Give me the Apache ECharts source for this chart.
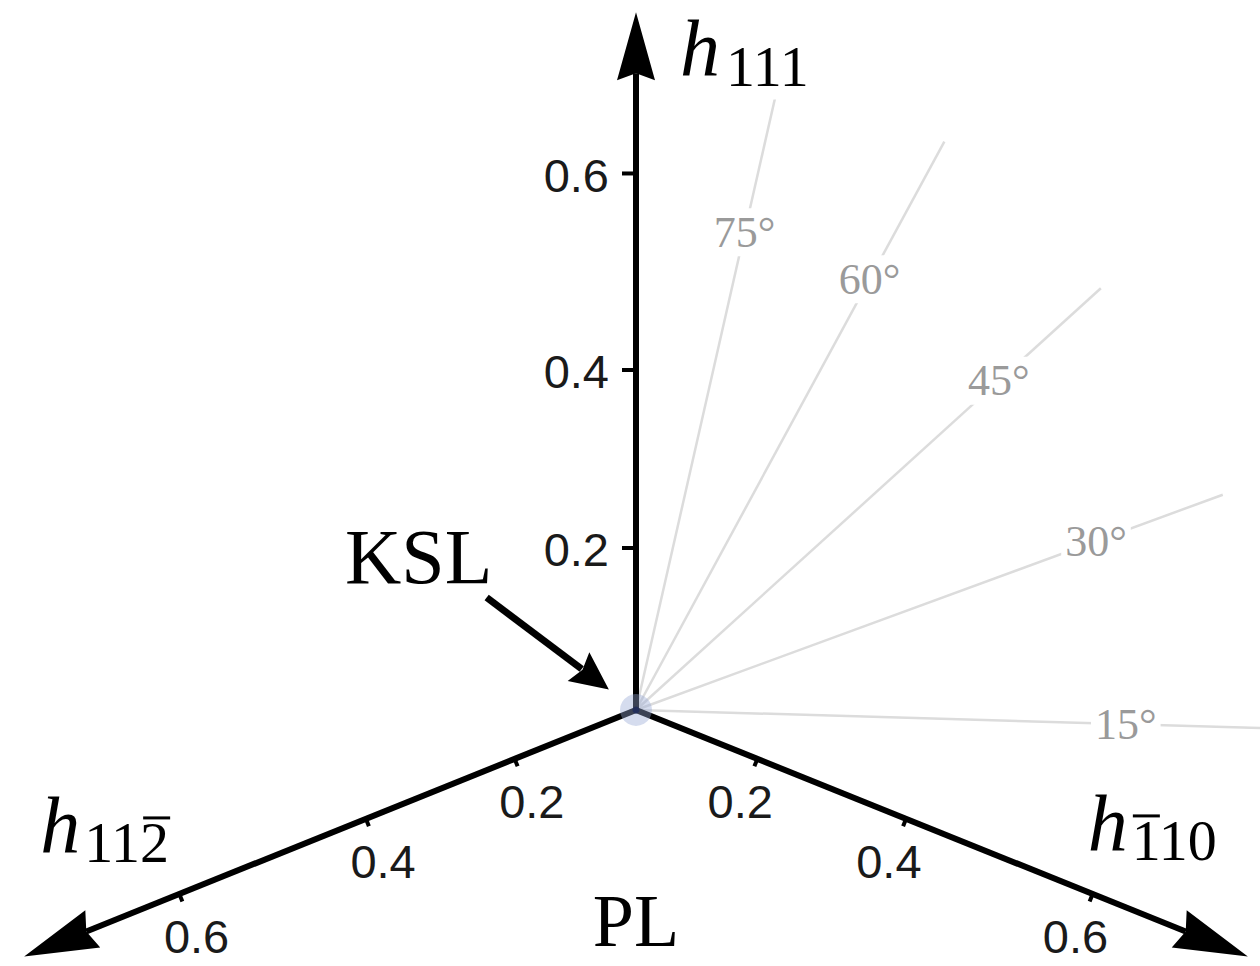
<!DOCTYPE html>
<html>
<head>
<meta charset="utf-8">
<script src="https://cdn.jsdelivr.net/npm/echarts@6/dist/echarts.min.js"></script>
<style>
  html, body { margin: 0; padding: 0; background: #fff; }
  #chart { width: 1260px; height: 966px; }
</style>
</head>
<body>
<div id="chart"></div>
<script>
// ---- data -------------------------------------------------------------
// Tick values shared by the three field axes
const tickValues = [0.2, 0.4, 0.6];
const tickLabels = ['0.2', '0.4', '0.6'];
// Field axes as 3D unit vectors: [h_-110, h_11-2, h_111] components
const axisKeys = ['h111', 'h112bar', 'hbar110'];
const axisVectors = [[0, 0, 1], [0, 1, 0], [1, 0, 0]];
const axisLengths = [0.75, 0.735, 0.735];
// Polar angles of the reference rays, measured from h_-110 towards h_111
const rayAngles = [15, 30, 45, 60, 75];
const rayLabels = ['15°', '30°', '45°', '60°', '75°'];

// ---- perspective camera ----------------------------------------------
// screen = origin + sum(p_i * basis_i) / (1 + sum(p_i * persp_i))
const VIEW = {
  origin: [636, 710],
  basis: [[551, 222], [-551, 222], [0, -773.6]],
  persp: [-0.46, -0.46, -0.2248]
};
// horizontal direction of the plane that holds the angle rays
const RAY_PLANE = [1.055, -0.043];
const RAY_LEN = 0.71;
const RAY_LABEL_DIST = 490;   // label distance from the origin, px along the ray

function project(p) {
  let den = 1, x = 0, y = 0;
  for (let i = 0; i < 3; i++) {
    den += p[i] * VIEW.persp[i];
    x += p[i] * VIEW.basis[i][0];
    y += p[i] * VIEW.basis[i][1];
  }
  return [VIEW.origin[0] + x / den, VIEW.origin[1] + y / den];
}
const scale3 = (v, s) => [v[0] * s, v[1] * s, v[2] * s];

const SERIF = '"Liberation Serif", "DejaVu Serif", serif';
const SANS = '"Liberation Sans", Arial, sans-serif';
const W = 1260, H = 966;

const chart = echarts.init(document.getElementById('chart'), null, { renderer: 'svg', width: W, height: H });

// grey angle rays with their labels
const raySeries = {
  type: 'custom',
  z: 1,
  data: rayAngles.map((a, i) => [a, i]),
  renderItem(params, api) {
    const i = params.dataIndex;
    const t = rayAngles[i] * Math.PI / 180;
    const d = [Math.cos(t) * RAY_PLANE[0], Math.cos(t) * RAY_PLANE[1], Math.sin(t)];
    const o = api.coord(project([0, 0, 0]));
    const e = api.coord(project(scale3(d, RAY_LEN)));
    const len = Math.hypot(e[0] - o[0], e[1] - o[1]);
    const l = [o[0] + (e[0] - o[0]) / len * RAY_LABEL_DIST, o[1] + (e[1] - o[1]) / len * RAY_LABEL_DIST];
    return {
      type: 'group',
      children: [
        { type: 'line', shape: { x1: o[0], y1: o[1], x2: e[0], y2: e[1] },
          style: { stroke: '#dcdcdc', lineWidth: 2.5 } },
        { type: 'text', x: l[0], y: l[1],
          style: { text: rayLabels[i], font: '44px ' + SERIF, fill: '#9a9a9a',
                   align: 'center', verticalAlign: 'middle',
                   backgroundColor: '#ffffff', padding: [2, 4] } }
      ]
    };
  }
};

// black field axes with arrowheads, tick marks and tick labels
const NOTCH = 7;
const axisSeries = {
  type: 'custom',
  z: 3,
  data: axisVectors.map((v, i) => [i, 0]),
  renderItem(params, api) {
    const i = params.dataIndex;
    const v = axisVectors[i];
    const o = api.coord(project([0, 0, 0]));
    const tip = api.coord(project(scale3(v, axisLengths[i])));
    const dx = tip[0] - o[0], dy = tip[1] - o[1];
    const len = Math.hypot(dx, dy);
    const u = [dx / len, dy / len];
    const side = [-u[1], u[0]];
    const vertical = Math.abs(u[0]) < 0.2;
    const headLen = vertical ? 68 : 74;
    const headHalf = vertical ? 19 : 20;
    // outward normal used for ticks and labels
    const n = vertical ? [-1, 0] : (u[0] > 0 ? [-u[1], u[0]] : [u[1], -u[0]]);
    const base = [tip[0] - u[0] * headLen, tip[1] - u[1] * headLen];
    const notch = [tip[0] - u[0] * (headLen - NOTCH), tip[1] - u[1] * (headLen - NOTCH)];
    const children = [
      { type: 'line', shape: { x1: o[0], y1: o[1], x2: notch[0], y2: notch[1] },
        style: { stroke: '#000', lineWidth: 6 } },
      { type: 'polygon', shape: { points: [
          tip,
          [base[0] + side[0] * headHalf, base[1] + side[1] * headHalf],
          notch,
          [base[0] - side[0] * headHalf, base[1] - side[1] * headHalf]
        ] }, style: { fill: '#000' } }
    ];
    tickValues.forEach((tv, k) => {
      const p = api.coord(project(scale3(v, tv)));
      const tl = vertical ? 14 : 8;
      children.push({ type: 'line',
        shape: { x1: p[0], y1: p[1], x2: p[0] + n[0] * tl, y2: p[1] + n[1] * tl },
        style: { stroke: '#000', lineWidth: 4 } });
      if (vertical) {
        children.push({ type: 'text', x: p[0] - 27, y: p[1] + 2,
          style: { text: tickLabels[k], font: '47px ' + SANS, fill: '#1a1a1a',
                   align: 'right', verticalAlign: 'middle' } });
      } else {
        children.push({ type: 'text', x: p[0] + n[0] * 46, y: p[1] + n[1] * 46,
          style: { text: tickLabels[k], font: '47px ' + SANS, fill: '#1a1a1a',
                   align: 'center', verticalAlign: 'middle' } });
      }
    });
    return { type: 'group', children };
  }
};

// translucent marker at the origin of field space
const originPt = project([0, 0, 0]);
const originSeries = [
  { type: 'scatter', z: 4, symbolSize: 32, silent: true, data: [originPt],
    itemStyle: { color: 'rgba(150,168,212,0.5)' } },
  { type: 'scatter', z: 5, symbolSize: 7, silent: true, data: [originPt],
    itemStyle: { color: '#1d2b5c' } }
];

// text annotations: axis names, KSL pointer, PL
function hLabel(left, baseline, sub, barIndex, subBg) {
  const hs = 80, ss = 58;
  const subStyle = { text: sub, font: ss + 'px ' + SERIF, fill: '#000', align: 'left', verticalAlign: 'middle' };
  if (subBg) { subStyle.backgroundColor = '#ffffff'; subStyle.padding = [0, 2, 8, 2]; }
  const kids = [
    { type: 'text', x: left, y: baseline - 0.3375 * hs,
      style: { text: 'h', font: 'italic ' + hs + 'px ' + SERIF, fill: '#000', align: 'left', verticalAlign: 'middle' } },
    { type: 'text', x: left + 44, y: baseline + 11 - 0.3375 * ss, style: subStyle }
  ];
  if (barIndex >= 0) {
    const bx = left + 44 + barIndex * ss * 0.5;
    const by = baseline + 11 - 0.7 * ss - 4;
    kids.push({ type: 'line', shape: { x1: bx + 1, y1: by, x2: bx + ss * 0.5 - 1, y2: by },
      style: { stroke: '#000', lineWidth: 3 } });
  }
  return kids;
}

const annotationSeries = {
  type: 'custom',
  z: 6,
  data: [[0, 0]],
  renderItem(params, api) {
    const o = api.coord(project([0, 0, 0]));
    const top = api.coord(project(scale3(axisVectors[0], axisLengths[0])));
    const left = api.coord(project(scale3(axisVectors[1], axisLengths[1])));
    const right = api.coord(project(scale3(axisVectors[2], axisLengths[2])));
    // KSL pointer: straight arrow aimed at the origin
    const ang = 37 * Math.PI / 180;
    const ud = [Math.cos(ang), Math.sin(ang)];
    const tail = [o[0] - ud[0] * 187, o[1] - ud[1] * 187];
    const ktip = [o[0] - ud[0] * 34, o[1] - ud[1] * 34];
    const kb = [ktip[0] - ud[0] * 38, ktip[1] - ud[1] * 38];
    const ks = [-ud[1], ud[0]];
    const children = [
      { type: 'line', shape: { x1: tail[0], y1: tail[1], x2: kb[0] + ud[0] * 4, y2: kb[1] + ud[1] * 4 },
        style: { stroke: '#000', lineWidth: 7 } },
      { type: 'polygon', shape: { points: [ktip,
          [kb[0] + ks[0] * 18, kb[1] + ks[1] * 18],
          [kb[0] + ud[0] * 5, kb[1] + ud[1] * 5],
          [kb[0] - ks[0] * 18, kb[1] - ks[1] * 18]] },
        style: { fill: '#000' } },
      { type: 'text', x: o[0] - 291, y: o[1] - 127 - 0.3375 * 78,
        style: { text: 'KSL', font: '78px ' + SERIF, fill: '#000', align: 'left', verticalAlign: 'middle' } },
      { type: 'text', x: o[0], y: o[1] + 211,
        style: { text: 'PL', font: '74px ' + SERIF, lineHeight: 60, fill: '#000', align: 'center', verticalAlign: 'middle' } }
    ];
    children.push(...hLabel(top[0] + 44, top[1] + 63, '111', -1, true));
    children.push(...hLabel(left[0] + 16, left[1] - 105, '112', 2, false));
    children.push(...hLabel(right[0] - 160, right[1] - 107, '110', 0, false));
    return { type: 'group', children };
  }
};

chart.setOption({
  backgroundColor: '#ffffff',
  animation: false,
  grid: { left: 0, right: 0, top: 0, bottom: 0 },
  xAxis: { type: 'value', min: 0, max: W, show: false },
  yAxis: { type: 'value', min: 0, max: H, inverse: true, show: false },
  series: [raySeries, axisSeries, ...originSeries, annotationSeries]
});
</script>
</body>
</html>
